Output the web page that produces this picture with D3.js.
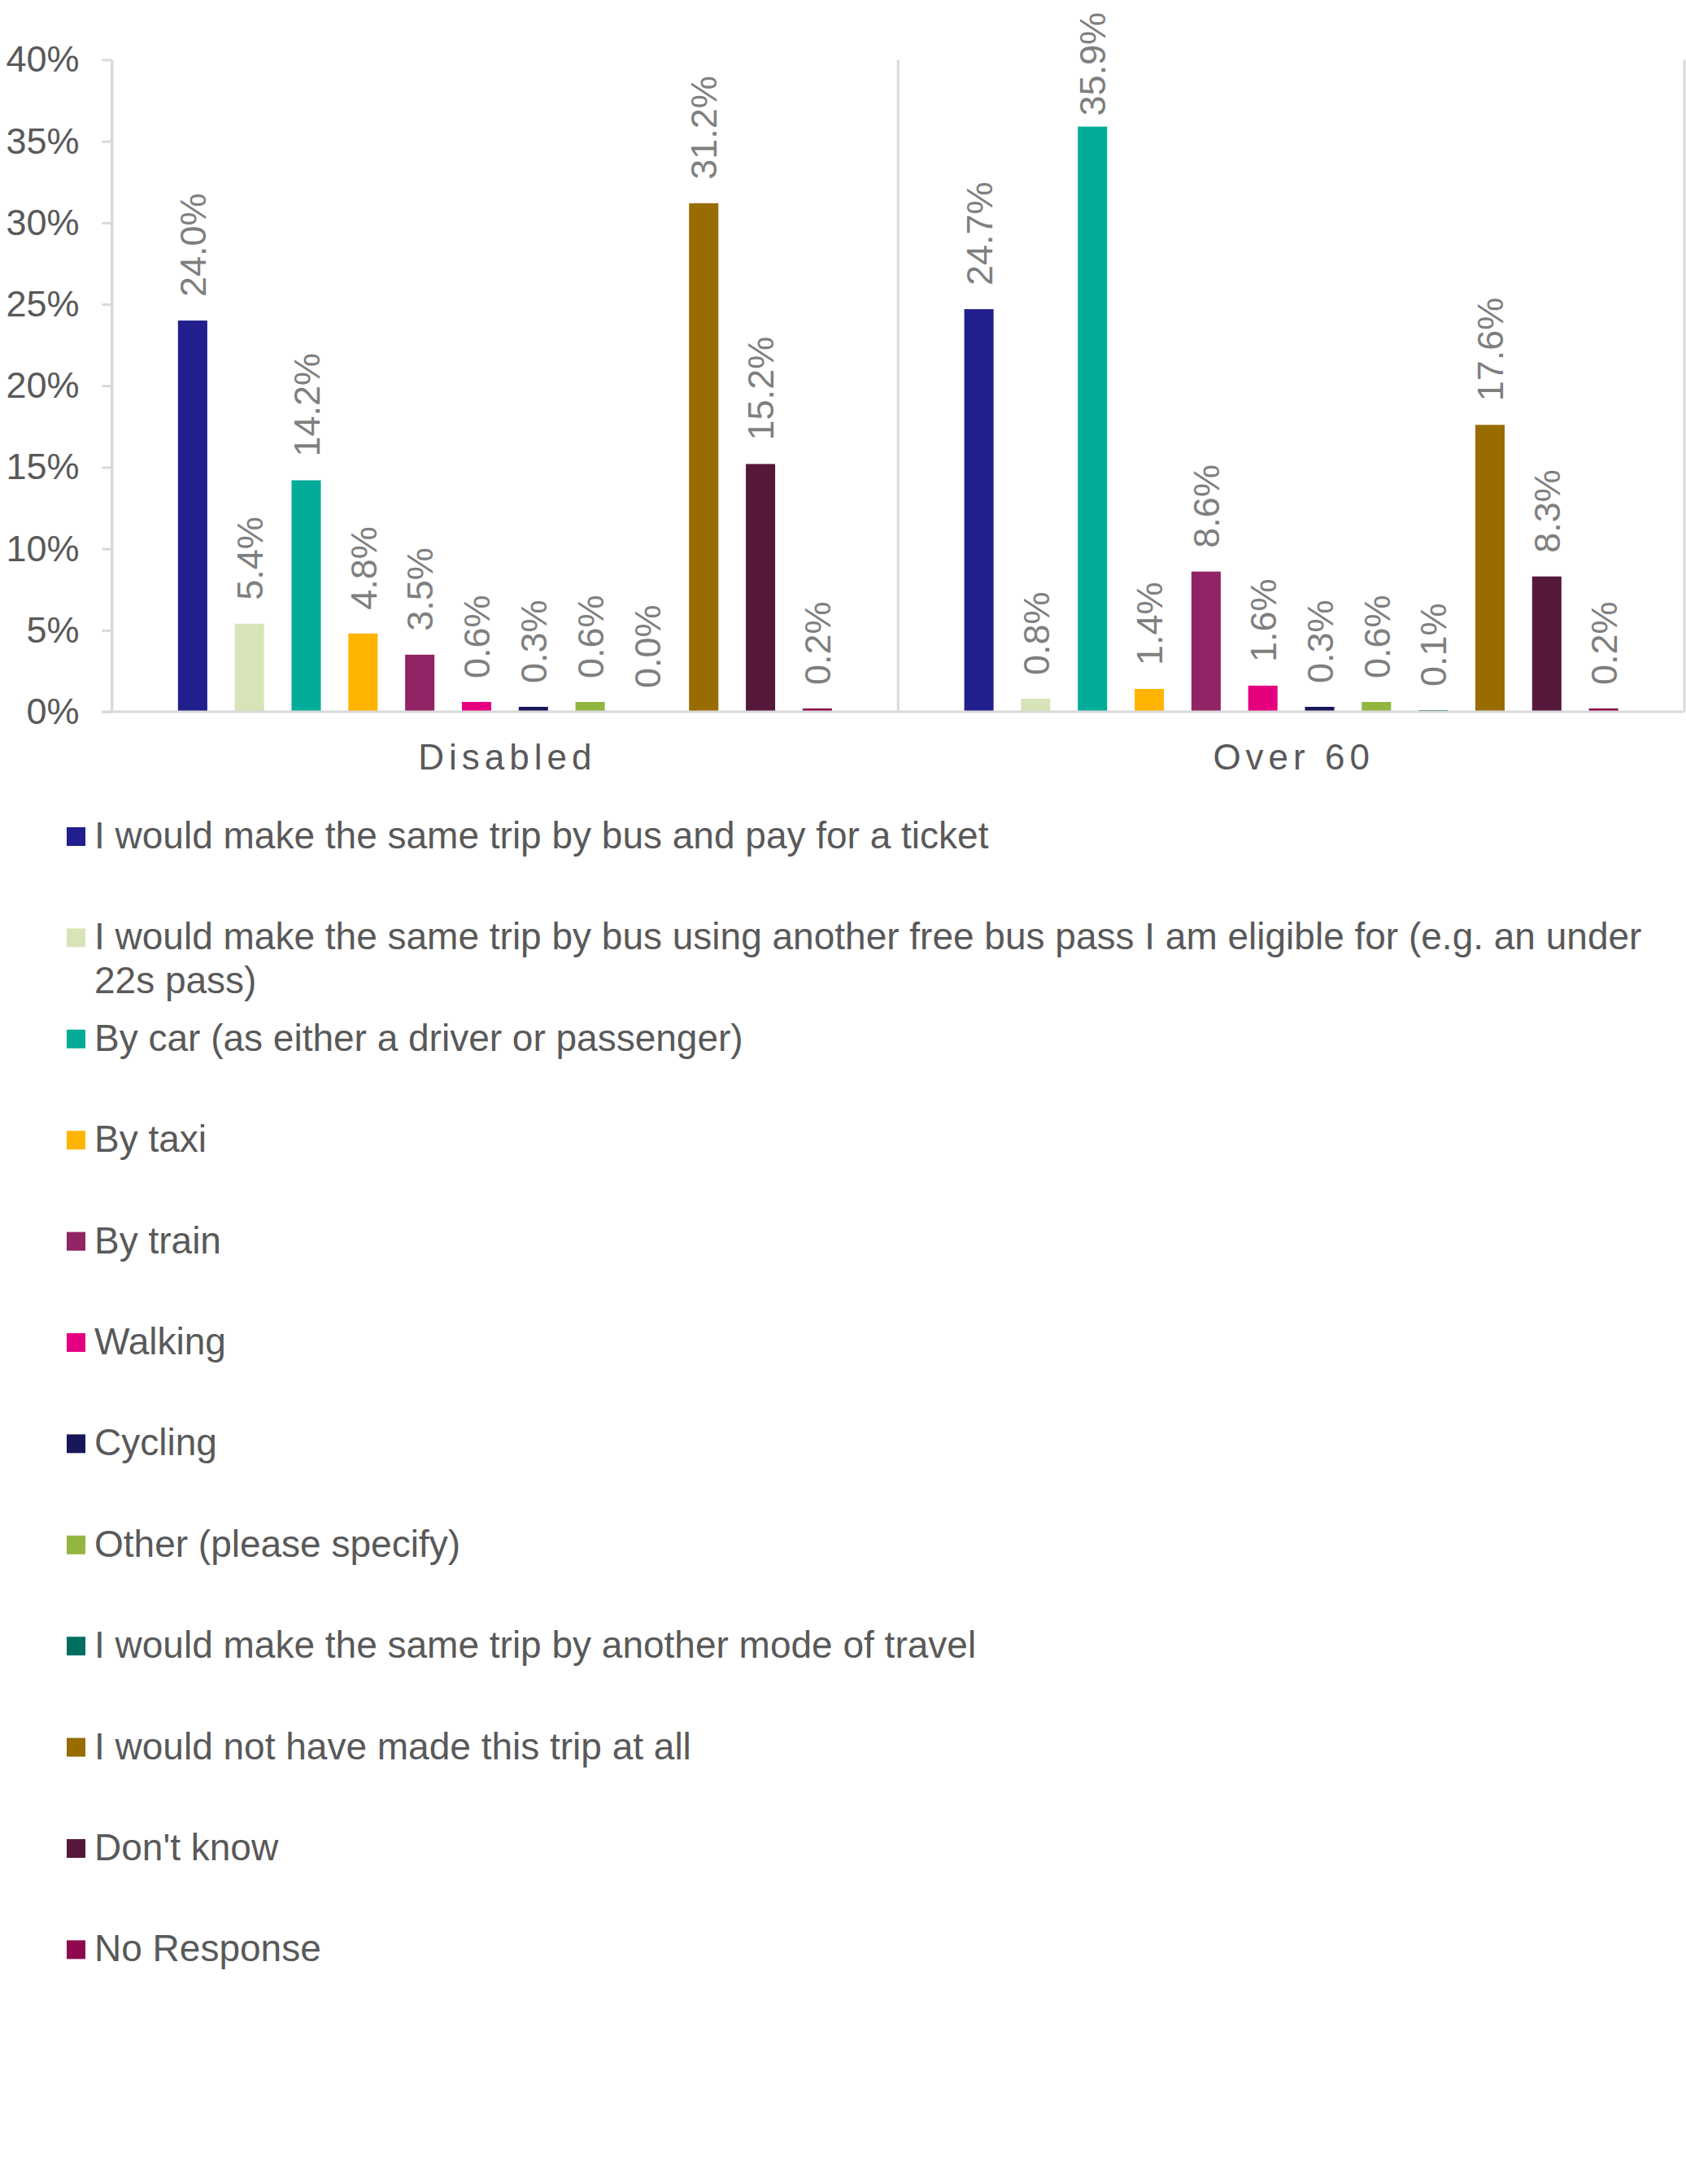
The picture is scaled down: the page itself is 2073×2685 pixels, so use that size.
<!DOCTYPE html>
<html>
<head>
<meta charset="utf-8">
<script src="https://cdn.jsdelivr.net/npm/d3@7"></script>
<style>
  html, body { margin: 0; padding: 0; background: #ffffff; }
  svg { display: block; font-family: "Liberation Sans", Arial, sans-serif; }
</style>
</head>
<body>
<svg id="chart" width="2073" height="2685"></svg>
<script>
// ---- data ----
const categories = ["Disabled", "Over 60"];
const seriesNames = [
  "I would make the same trip by bus and pay for a ticket",
  "I would make the same trip by bus using another free bus pass I am eligible for (e.g. an under 22s pass)",
  "By car (as either a driver or passenger)",
  "By taxi",
  "By train",
  "Walking",
  "Cycling",
  "Other (please specify)",
  "I would make the same trip by another mode of travel",
  "I would not have made this trip at all",
  "Don't know",
  "No Response"
];
const seriesColors = [
  "#211F8D", "#D7E4B7", "#02AC98", "#FFB400", "#912465", "#E5007F",
  "#17165A", "#92B640", "#006F5F", "#986C00", "#55183B", "#8E0A4E"
];
const disabledValues = [24.0, 5.4, 14.2, 4.8, 3.5, 0.6, 0.3, 0.6, 0.0, 31.2, 15.2, 0.2];
const over60Values   = [24.7, 0.8, 35.9, 1.4, 8.6, 1.6, 0.3, 0.6, 0.1, 17.6, 8.3, 0.2];
const yTickValues = [0, 5, 10, 15, 20, 25, 30, 35, 40];

const valuesByCategory = [disabledValues, over60Values];
const rows = [];
categories.forEach((c, ci) => {
  seriesNames.forEach((s, si) => {
    rows.push({ category: c, series: s, index: si, value: valuesByCategory[ci][si] });
  });
});

// ---- layout ----
const svg = d3.select("#chart");
const plotLeft = 137.5, plotRight = 2071, plotTop = 73.5, plotBottom = 875;
const axisGray = "#D9D9D9";
const textDark = "#595959";
const labelGray = "#7F7F7F";

const x0 = d3.scaleBand().domain(categories).range([plotLeft, plotRight]).padding(0);
const x1 = d3.scaleBand().domain(seriesNames).range([0, x0.bandwidth()])
  .paddingInner(0.484).paddingOuter(1.165);
const y = d3.scaleLinear().domain([0, 40]).range([plotBottom, plotTop]);

// vertical category separators
const sepXs = categories.map(c => x0(c)).concat([x0.range()[1]]);
svg.append("g").selectAll("line").data(sepXs).join("line")
  .attr("x1", d => d).attr("x2", d => d)
  .attr("y1", y(40)).attr("y2", y(0))
  .attr("stroke", axisGray).attr("stroke-width", 3);

// y axis
const yAxis = d3.axisLeft(y).tickValues(yTickValues).tickFormat(d => d + "%")
  .tickSize(12).tickSizeOuter(0).tickPadding(28);
const gy = svg.append("g").attr("transform", `translate(${plotLeft},0)`).call(yAxis);
gy.select(".domain").attr("stroke", axisGray).attr("stroke-width", 3);
gy.selectAll(".tick line").attr("stroke", axisGray).attr("stroke-width", 3);
gy.selectAll(".tick text").attr("fill", textDark).attr("font-size", 45)
  .attr("font-family", '"Liberation Sans", Arial, sans-serif');

// bars
const bars = svg.append("g");
bars.selectAll("rect").data(rows).join("rect")
  .attr("x", d => x0(d.category) + x1(d.series))
  .attr("width", x1.bandwidth())
  .attr("y", d => y(d.value))
  .attr("height", d => y(0) - y(d.value))
  .attr("fill", d => seriesColors[d.index]);

// data labels (kept inside the chart area like the original)
const labelTopLimit = 15;
const labels = svg.append("g").selectAll("text").data(rows).join("text")
  .attr("dy", "0.36em")
  .attr("text-anchor", "start")
  .attr("font-size", 45)
  .attr("fill", labelGray)
  .text(d => d.value.toFixed(1) + "%");
labels.attr("transform", function(d) {
  const cx = x0(d.category) + x1(d.series) + x1.bandwidth() / 2;
  const len = this.getComputedTextLength();
  let start = y(d.value) - 29;
  if (start - len < labelTopLimit) start = labelTopLimit + len;
  return `translate(${cx},${start}) rotate(-90)`;
});

// x axis baseline
svg.append("line")
  .attr("x1", plotLeft - 12).attr("x2", plotRight)
  .attr("y1", y(0)).attr("y2", y(0))
  .attr("stroke", axisGray).attr("stroke-width", 3);

// category labels
const xAxis = d3.axisBottom(x0).tickSize(0).tickPadding(40);
const gx = svg.append("g").attr("transform", `translate(0,${plotBottom})`).call(xAxis);
gx.select(".domain").remove();
gx.selectAll(".tick text").attr("fill", textDark).attr("font-size", 44)
  .attr("font-family", '"Liberation Sans", Arial, sans-serif')
  .attr("letter-spacing", 6).attr("dx", 3);

// legend
const legendTop = 1043, legendStep = 124.4, legendTextX = 116, wrapWidth = 1920;
const legend = svg.append("g");
seriesNames.forEach((name, i) => {
  const by = legendTop + i * legendStep;
  legend.append("rect").attr("x", 82).attr("y", by - 26).attr("width", 23).attr("height", 23)
    .attr("fill", seriesColors[i]);
  const t = legend.append("text").attr("x", legendTextX).attr("y", by)
    .attr("font-size", 46).attr("fill", textDark);
  const words = name.split(" ");
  let line = [];
  let tspan = t.append("tspan").attr("x", legendTextX).attr("y", by);
  let lineNo = 0;
  words.forEach(w => {
    line.push(w);
    tspan.text(line.join(" "));
    if (tspan.node().getComputedTextLength() > wrapWidth && line.length > 1) {
      line.pop();
      tspan.text(line.join(" "));
      line = [w];
      lineNo++;
      tspan = t.append("tspan").attr("x", legendTextX).attr("y", by + lineNo * 53.5).text(w);
    }
  });
});
</script>
</body>
</html>
